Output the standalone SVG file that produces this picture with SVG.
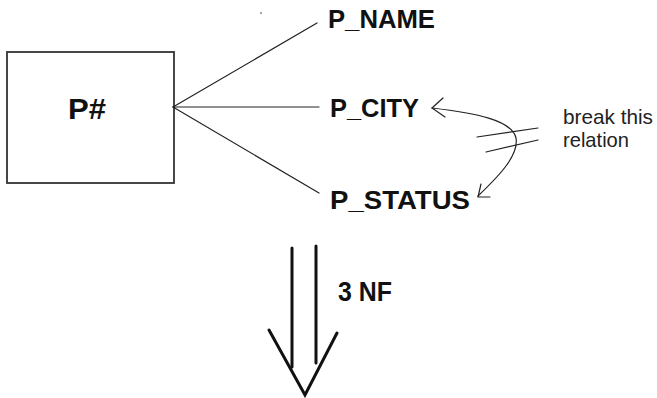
<svg xmlns="http://www.w3.org/2000/svg" width="657" height="398" viewBox="0 0 657 398">
  <style>
    .bold { font-family: "Liberation Sans", Arial, sans-serif; font-weight: bold; fill: #111; }
    .note { font-family: "Liberation Sans", Arial, sans-serif; fill: #222; }
    .thin { fill: none; stroke: #222; stroke-width: 1.2; stroke-linecap: round; }
    .thick { fill: none; stroke: #111; stroke-width: 3; stroke-linecap: round; }
  </style>
  <rect width="657" height="398" fill="#fff"/>

  <!-- entity box -->
  <g id="node-pkey">
    <rect x="7" y="52" width="167" height="131" fill="#fff" stroke="#333" stroke-width="1.8"/>
    <text class="bold" x="68" y="119" font-size="29" textLength="38" lengthAdjust="spacingAndGlyphs">P#</text>
  </g>

  <!-- attributes -->
  <g id="node-pname">
    <text class="bold" x="328" y="28" font-size="25" textLength="107" lengthAdjust="spacingAndGlyphs">P_NAME</text>
  </g>
  <g id="node-pcity">
    <text class="bold" x="330" y="117" font-size="25" textLength="89" lengthAdjust="spacingAndGlyphs">P_CITY</text>
  </g>
  <g id="node-pstatus">
    <text class="bold" x="330" y="209" font-size="26" textLength="140" lengthAdjust="spacingAndGlyphs">P_STATUS</text>
  </g>

  <!-- annotation -->
  <g id="note-break">
    <text class="note" x="563" y="124" font-size="21" textLength="90" lengthAdjust="spacingAndGlyphs">break this</text>
    <text class="note" x="563" y="147" font-size="21" textLength="66" lengthAdjust="spacingAndGlyphs">relation</text>
  </g>

  <g id="label-3nf">
    <text class="bold" x="338" y="301" font-size="28" textLength="54" lengthAdjust="spacingAndGlyphs">3 NF</text>
  </g>

  <!-- connectors -->
  <g id="connectors">
    <line class="thin" x1="173" y1="107" x2="317" y2="23"/>
    <line class="thin" x1="173" y1="107" x2="319" y2="107"/>
    <line class="thin" x1="173" y1="107" x2="319" y2="193"/>
    <circle cx="261" cy="13" r="0.8" fill="#333"/>

    <!-- dependency being removed -->
    <path class="thin" d="M432,108 C475,113 512,120 516,138 C519,155 500,175 478,196"/>
    <path class="thin" d="M443,98 L432,108 L445,117"/>
    <path class="thin" d="M481,184 L478,197 L490,197"/>
    <line class="thin" x1="477" y1="137" x2="538" y2="128"/>
    <line class="thin" x1="486" y1="152" x2="538" y2="140"/>

    <!-- transformation arrow -->
    <line class="thick" x1="292" y1="248" x2="292" y2="367"/>
    <line class="thick" x1="316" y1="246" x2="316" y2="363"/>
    <path class="thick" d="M269,330 L305,395 L337,333" stroke-linejoin="miter"/>
  </g>
</svg>
